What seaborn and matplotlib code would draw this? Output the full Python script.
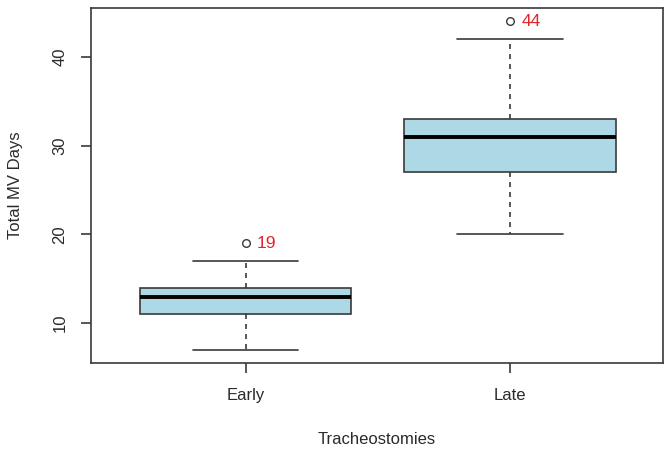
import numpy as np
import pandas as pd
import matplotlib
matplotlib.use('Agg')
import matplotlib.pyplot as plt
import seaborn as sns

# Data (observations reconstructed from the box summary in the picture)
groups = ['Early', 'Late']
early_days = [7, 11, 11, 13, 13, 13, 14, 17, 19]
late_days = [20, 27, 27, 31, 31, 31, 33, 42, 44]
y_ticks = [10, 20, 30, 40]

df = pd.DataFrame({
    'Tracheostomies': ['Early'] * len(early_days) + ['Late'] * len(late_days),
    'Total MV Days': early_days + late_days,
})

sns.set_style('white')
plt.rcParams['font.family'] = ['Liberation Sans', 'DejaVu Sans']

line_col = '#3a3a3a'
fig = plt.figure(figsize=(6.7, 4.51), dpi=100)
ax = fig.add_axes([91 / 670, 1 - 363 / 451, 572 / 670, 355 / 451])

sns.boxplot(data=df, x='Tracheostomies', y='Total MV Days', order=groups,
            width=0.8, color='#ADD8E6', linecolor=line_col, linewidth=1.2,
            whis=1.5, saturation=1, ax=ax,
            medianprops=dict(color='black', linewidth=2.8),
            whiskerprops=dict(linestyle=(0, (3, 3)), color=line_col, linewidth=1.2),
            capprops=dict(color=line_col, linewidth=1.2),
            flierprops=dict(marker='o', markersize=5.5, markerfacecolor='white',
                            markeredgecolor=line_col, markeredgewidth=1))

# label the outliers
for i, vals in enumerate([early_days, late_days]):
    q1, q3 = np.percentile(vals, [25, 75])
    hi = q3 + 1.5 * (q3 - q1)
    for v in vals:
        if v > hi:
            ax.annotate(str(v), (i, v), xytext=(8, 0), textcoords='offset points',
                        ha='left', va='center', color='#e0262b', fontsize=12.5)

ax.set_xlim(-0.584, 1.578)
ax.set_ylim(5.52, 45.48)
ax.set_yticks(y_ticks)
ax.set_yticklabels([str(t) for t in y_ticks], rotation=90, va='center')

for s in ax.spines.values():
    s.set_visible(True)
    s.set_color(line_col)
    s.set_linewidth(1.2)

ax.tick_params(axis='both', which='major', bottom=True, left=True, direction='out',
               length=7, width=1.2, color=line_col, labelsize=12, labelcolor='#2a2a2a')
ax.tick_params(axis='x', pad=11)
ax.tick_params(axis='y', pad=10)
ax.set_xlabel('Tracheostomies', fontsize=12, color='#2a2a2a', labelpad=21)
ax.set_ylabel('Total MV Days', fontsize=12, color='#2a2a2a', labelpad=21)

plt.savefig('out.png', dpi=100)
plt.close()
